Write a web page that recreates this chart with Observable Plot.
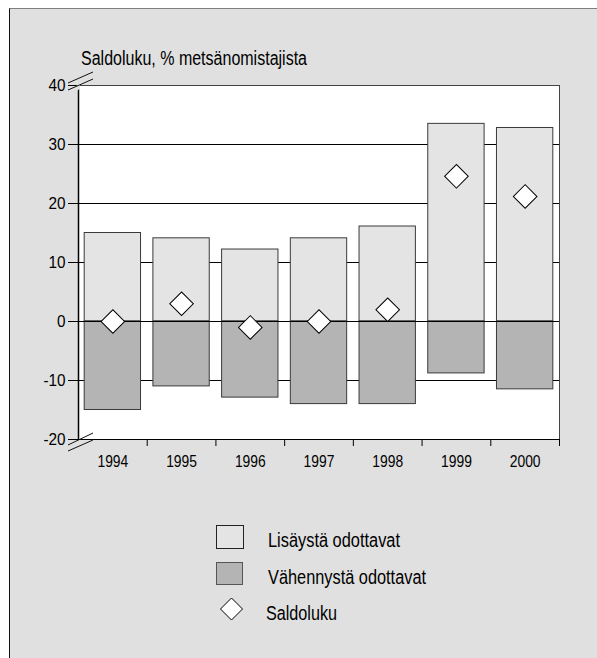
<!DOCTYPE html>
<html>
<head>
<meta charset="utf-8">
<script src="https://cdn.jsdelivr.net/npm/d3@7"></script>
<script src="https://cdn.jsdelivr.net/npm/@observablehq/plot@0.6"></script>
<style>
  html, body { margin: 0; padding: 0; background: #ffffff; }
  body { width: 597px; height: 658px; position: relative; overflow: hidden;
         font-family: "Liberation Sans", Arial, sans-serif; }
  #panel { position: absolute; left: 9px; top: 8px; width: 588px; height: 650px;
           background: #e0e0e0; border-top: 1px solid #7f7f7f; border-left: 1px solid #111; box-sizing: border-box; }
  #chart { position: absolute; left: 0; top: 0; }
  #overlay { position: absolute; left: 0; top: 0; }
</style>
</head>
<body>
<div id="panel"></div>
<div id="chart"></div>
<svg id="overlay" width="597" height="658"></svg>
<script>
// Data
const years = [1994, 1995, 1996, 1997, 1998, 1999, 2000];
const increase = [15, 14.1, 12.2, 14.1, 16.1, 33.5, 32.8];   // Lisäystä odottavat
const decrease = [-15, -11, -12.9, -14, -14, -8.8, -11.5];   // Vähennystä odottavat
const saldo = [0, 3, -1, 0, 2, 24.6, 21.2];                  // Saldoluku
const yTicks = [-20, -10, 0, 10, 20, 30, 40];
const gridValues = [-10, 10, 20, 30];
const titleText = "Saldoluku, % metsänomistajista";
const legendLabels = ["Lisäystä odottavat", "Vähennystä odottavat", "Saldoluku"];

const FONT = '"Liberation Sans", Arial, sans-serif';
const rows = years.map((y, i) => ({year: y, inc: increase[i], dec: decrease[i], saldo: saldo[i]}));
const half = 0.41;
const boundaries = years.map(y => y + 0.5);

const breakMarks = (index, scales, values, dims, context) => {
  const g = d3.create("svg:g").attr("stroke", "#111").attr("stroke-width", 1).attr("fill", "none");
  const x0 = scales.x(years[0] - 0.5);
  const yt = scales.y(40), yb = scales.y(-20);
  for (const [yy, segs] of [[yt, [[-10, -2, 15, -13], [-10, 5, 15, -6]]], [yb, [[-10, 6, 15, -6], [-10, 12, 15, 1]]]]) {
    g.append("path").attr("stroke", "none").attr("fill", "#e0e0e0")
      .attr("d", `M${x0 - 2},${yy + segs[0][1] + 3}L${x0 + 2},${yy + segs[0][1] + 1}L${x0 + 2},${yy + segs[1][1] - 1}L${x0 - 2},${yy + segs[1][1] + 1}Z`);
    for (const [a, b, c, d] of segs) {
      g.append("line").attr("x1", x0 + a).attr("y1", yy + b).attr("x2", x0 + c).attr("y2", yy + d);
    }
  }
  return g.node();
};

const plot = Plot.plot({
  width: 597,
  height: 480,
  marginLeft: 78,
  marginRight: 38,
  marginTop: 85,
  marginBottom: 41,
  style: {background: "transparent", fontFamily: FONT, color: "#000"},
  x: {domain: [years[0] - 0.5, years[years.length - 1] + 0.5]},
  y: {domain: [-20, 40]},
  marks: [
    Plot.frame({fill: "#ffffff", stroke: "#444"}),
    Plot.ruleY(gridValues, {stroke: "#000", strokeWidth: 1}),
    Plot.rectY(rows, {x1: d => d.year - half, x2: d => d.year + half, y1: 0, y2: "inc", fill: "#e4e4e4", stroke: "#3a3a3a", strokeWidth: 1}),
    Plot.rectY(rows, {x1: d => d.year - half, x2: d => d.year + half, y1: 0, y2: "dec", fill: "#b4b4b4", stroke: "#3a3a3a", strokeWidth: 1}),
    Plot.ruleY([0], {stroke: "#000", strokeWidth: 1}),
    Plot.dot(rows, {x: "year", y: "saldo", symbol: "square", rotate: 45, r: 9.4, fill: "#fff", stroke: "#000", strokeWidth: 1}),
    Plot.ruleX([years[0] - 0.5], {stroke: "#000", strokeWidth: 1.5}),
    Plot.ruleY([-20], {stroke: "#000", strokeWidth: 1.2}),
    Plot.axisY({ticks: yTicks, tickSize: 10, tickPadding: 3, fontSize: 17, label: null, tickFormat: d => String(d)}),
    Plot.axisX({ticks: boundaries, tickSize: 7, tickFormat: () => "", label: null}),
    Plot.axisX({ticks: years, tickSize: 0, tickPadding: 16, fontSize: 16.5, label: null, tickFormat: d => String(d)}),
    breakMarks
  ]
});
document.getElementById("chart").appendChild(plot);

// Condense the tick labels to mimic the narrow typeface of the original
d3.select(plot).selectAll("text").each(function () {
  const t = this.textContent;
  if (!t) return;
  const len = this.getComputedTextLength();
  if (len > 0) {
    const k = years.includes(+t) ? 0.84 : 0.9;
    d3.select(this).attr("textLength", len * k).attr("lengthAdjust", "spacingAndGlyphs");
  }
});

// Title and legend
const ov = d3.select("#overlay").attr("font-family", FONT);
ov.append("text").attr("x", 81).attr("y", 65).attr("font-size", 19.5).attr("fill", "#000")
  .attr("textLength", 226).attr("lengthAdjust", "spacingAndGlyphs").text(titleText);

const lg = ov.append("g");
lg.append("rect").attr("x", 216.5).attr("y", 525.5).attr("width", 27).attr("height", 23)
  .attr("fill", "#e4e4e4").attr("stroke", "#222");
lg.append("rect").attr("x", 216.5).attr("y", 562.5).attr("width", 26).attr("height", 22)
  .attr("fill", "#b4b4b4").attr("stroke", "#555");
lg.append("path").attr("d", "M231.5,598L242.5,609L231.5,620L220.5,609Z").attr("fill", "#fff").attr("stroke", "#000");
const lx = [268, 268, 266], ly = [547, 584, 620], lw = [132, 158, 71];
legendLabels.forEach((t, i) => {
  lg.append("text").attr("x", lx[i]).attr("y", ly[i]).attr("font-size", 19.5).attr("fill", "#000")
    .attr("textLength", lw[i]).attr("lengthAdjust", "spacingAndGlyphs").text(t);
});
</script>
</body>
</html>
